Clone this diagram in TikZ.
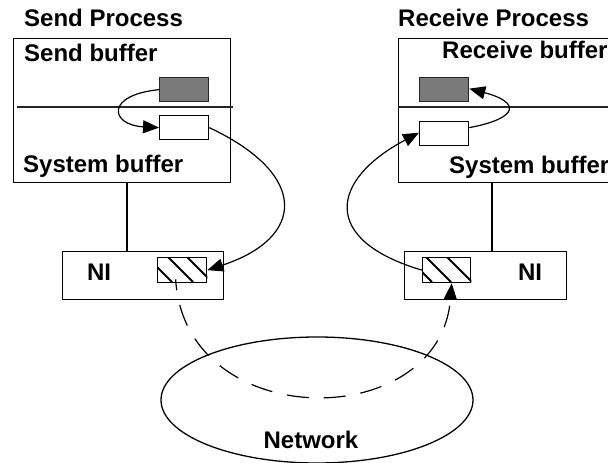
\documentclass[tikz,border=0pt]{standalone}
\usepackage{fontspec}
\setmainfont{Liberation Sans}
\usetikzlibrary{arrows.meta,shapes.geometric}
\begin{document}
\begin{tikzpicture}[x=1pt,y=-1pt,
  lbl/.style={font=\fontsize{24}{24}\selectfont\bfseries, inner sep=0pt, anchor=base west},
  lblc/.style={font=\fontsize{24}{24}\selectfont\bfseries, inner sep=0pt, anchor=base},
  boxx/.style={draw, line width=1.3pt, inner sep=0pt, anchor=north west},
  graybox/.style={boxx, fill=black!52, draw=black!85},
  whitebox/.style={boxx, fill=white},
  hatchline/.style={line width=2pt},
  divider/.style={line width=1.8pt, black!85},
  conn/.style={line width=1.2pt},
  flow/.style={line width=1.2pt, -{Triangle[length=16pt,width=13pt]}},
  dashflow/.style={line width=1.2pt, dash pattern=on 22pt off 15pt, dash phase=11pt, -{Triangle[length=16pt,width=13pt]}}
]
\useasboundingbox (0,0) rectangle (608,463);

% process boxes
\node[boxx, minimum width=217pt, minimum height=144pt] (lproc) at (13,38) {};
\node[boxx, minimum width=220pt, minimum height=144pt] (rproc) at (398,38) {};
\draw[divider] (17,107) coordinate (ldl) -- (233,107) coordinate (ldr);
\draw[divider] (398,107) coordinate (rdl) -- (612,107) coordinate (rdr);

% texts
\node[lbl] (sp) at (24,26) {Send Process};
\node[lbl] (sb) at (24,61) {Send buffer};
\node[lbl] (lsys) at (23,172) {System buffer};
\node[lbl] (rp) at (398,27) {Receive Process};
\node[lbl] (rb) at (442,58) {Receive buffer};
\node[lbl] (rsys) at (449,173) {System buffer};

% buffers
\node[graybox, minimum width=49pt, minimum height=24pt] (lgray) at (159,77) {};
\node[whitebox, minimum width=49pt, minimum height=24pt] (lwhite) at (159,115) {};
\node[graybox, minimum width=49pt, minimum height=24pt] (rgray) at (419,77) {};
\node[whitebox, minimum width=49pt, minimum height=24pt] (rwhite) at (419,121) {};

% NI boxes
\node[boxx, minimum width=161pt, minimum height=48pt] (lni) at (62,251) {};
\node[boxx, minimum width=162pt, minimum height=48pt] (rni) at (404,251) {};
\node[lblc] (lnit) at (99,280) {NI};
\node[lblc] (rnit) at (530,280) {NI};

% hatched boxes
\node[boxx, minimum width=49pt, minimum height=25pt] (lhatch) at (157,257) {};
\node[boxx, minimum width=48pt, minimum height=25pt] (rhatch) at (422,257) {};
\begin{scope}
  \clip (lhatch.south west) rectangle (lhatch.north east);
  \foreach \o in {-10,11,30} \draw[hatchline] ([xshift=\o pt]lhatch.north west) -- ++(25,25);
\end{scope}
\begin{scope}
  \clip (rhatch.south west) rectangle (rhatch.north east);
  \foreach \o in {-15,4,25} \draw[hatchline] ([xshift=\o pt]rhatch.north west) -- ++(25,25);
\end{scope}

% vertical connectors
\coordinate (lvx) at (127,0);
\coordinate (rvx) at (492,0);
\draw[conn] (lproc.south -| lvx) -- (lni.north -| lvx);
\draw[conn] (rproc.south -| rvx) -- (rni.north -| rvx);

% network
\node[draw, line width=1.3pt, ellipse, minimum width=312pt, minimum height=126pt, inner sep=0pt] (net) at (317,400) {};
\node[lblc] (nett) at (311,448) {Network};

% flows
\draw[flow] (lgray.west) .. controls (105,95) and (110,125) .. (lwhite.west);
\draw[flow] (lwhite.east) .. controls (310,175) and (305,238) .. ([yshift=0pt]lhatch.east);
\draw[flow] (rhatch.west) .. controls (320,240) and (330,180) .. ([yshift=1pt]rwhite.west);
\draw[flow] ([yshift=6pt]rwhite.east) .. controls (520,118) and (520,102) .. ([yshift=1pt]rgray.east);
\draw[dashflow] ([xshift=-6.5pt,yshift=4pt]lhatch.south) .. controls (185,434) and (440,434) .. ([xshift=5pt]rhatch.south);
\end{tikzpicture}
\end{document}
